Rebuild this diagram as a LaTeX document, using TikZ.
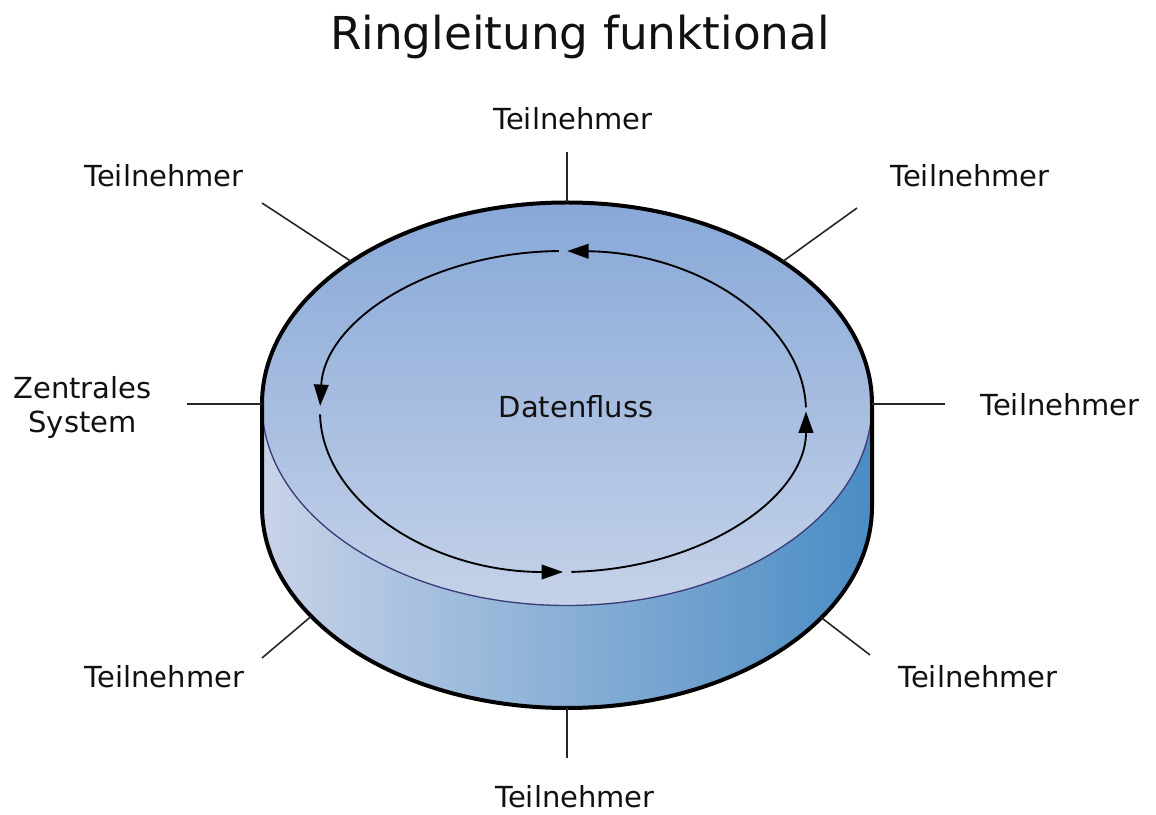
\documentclass[tikz,border=0pt]{standalone}
\usepackage{fontspec}
\setmainfont{DejaVu Sans}
\usetikzlibrary{arrows.meta}
\definecolor{topA}{HTML}{88A8D8}
\definecolor{topB}{HTML}{C5D2E8}
\definecolor{sideL}{HTML}{C8D3E8}
\definecolor{sideM}{HTML}{9DB7DA}
\definecolor{sideR}{HTML}{4A8CC4}
\definecolor{rimline}{HTML}{3C3C78}
\definecolor{txt}{HTML}{111111}
\tikzset{
  lbl/.style={font=\fontsize{21.75}{26}\selectfont, text=txt, anchor=base, inner sep=0pt},
  ttl/.style={font=\fontsize{34}{40}\selectfont, text=txt, anchor=base, inner sep=0pt},
  spoke/.style={line width=1.2pt, draw=black!85},
  outline/.style={line width=3pt, draw=black, line join=round},
  flow/.style={line width=1.4pt, draw=black, -{Triangle[length=16pt,width=11pt]}},
}
\begin{document}
\begin{tikzpicture}[x=0.75pt,y=0.75pt]
\useasboundingbox (0,0) rectangle (1156,814);
% side of the cylinder
\shade[left color=sideL, middle color=sideM, right color=sideR]
  (262,410) -- (262,307.5) arc[start angle=180,end angle=360,x radius=305,y radius=201.5] -- (872,410) -- cycle;
% top surface
\shade[top color=topA, bottom color=topB] (567,410) ellipse[x radius=305, y radius=201.5];
\draw[rimline, line width=1pt] (262,410) arc[start angle=180,end angle=360,x radius=305,y radius=201.5];
% outline
\draw[outline] (262,410) arc[start angle=180,end angle=0,x radius=305,y radius=201.5]
  -- (872,307.5) arc[start angle=360,end angle=180,x radius=305,y radius=201.5] -- cycle;
% data flow ring
\coordinate (c) at (563,402.5);
\draw[flow] ([shift={(1.5:243 and 160.5)}]c) arc[start angle=1.5,end angle=89,x radius=243,y radius=160.5];
\draw[flow] ([shift={(91:243 and 160.5)}]c) arc[start angle=91,end angle=178,x radius=243,y radius=160.5];
\draw[flow] ([shift={(181:243 and 160.5)}]c) arc[start angle=181,end angle=270,x radius=243,y radius=160.5];
\draw[flow] ([shift={(272:243 and 160.5)}]c) arc[start angle=272,end angle=360,x radius=243,y radius=160.5];
\node[lbl] (df) at (576,396) {Datenfluss};
% title
\node[ttl] (title) at (580,764) {Ringleitung funktional};
% labels
\node[lbl] (ltop) at (573,684) {Teilnehmer};
\node[lbl] (ltl) at (164,627) {Teilnehmer};
\node[lbl] (ltr) at (970,627) {Teilnehmer};
\node[lbl] (lr) at (1060,398) {Teilnehmer};
\node[lbl, align=center] (ll) at (82.5,381) {Zentrales\\System};
\node[lbl] (lbl) at (164.5,127) {Teilnehmer};
\node[lbl] (lbr) at (978,127) {Teilnehmer};
\node[lbl] (lb) at (575,7) {Teilnehmer};
% spoke coordinates
\coordinate (rtop) at (567,611.5);  \coordinate (otop) at (567,662);
\coordinate (rtl) at (351.3,552.5); \coordinate (otl) at (262,611);
\coordinate (rtr) at (782.7,552.5); \coordinate (otr) at (857,606);
\coordinate (rl) at (262,410);      \coordinate (ol) at (187,410);
\coordinate (rr) at (872,410);      \coordinate (or) at (945,410);
\coordinate (rb) at (567,106);      \coordinate (ob) at (567,56);
\coordinate (rbl) at (311.2,197.7); \coordinate (obl) at (262,156);
\coordinate (rbr) at (821.4,196.3); \coordinate (obr) at (870,159);
\draw[spoke] (rtop) -- (otop);
\draw[spoke] (rtl) -- (otl);
\draw[spoke] (rtr) -- (otr);
\draw[spoke] (rl) -- (ol);
\draw[spoke] (rr) -- (or);
\draw[spoke] (rb) -- (ob);
\draw[spoke] (rbl) -- (obl);
\draw[spoke] (rbr) -- (obr);
\end{tikzpicture}
\end{document}
